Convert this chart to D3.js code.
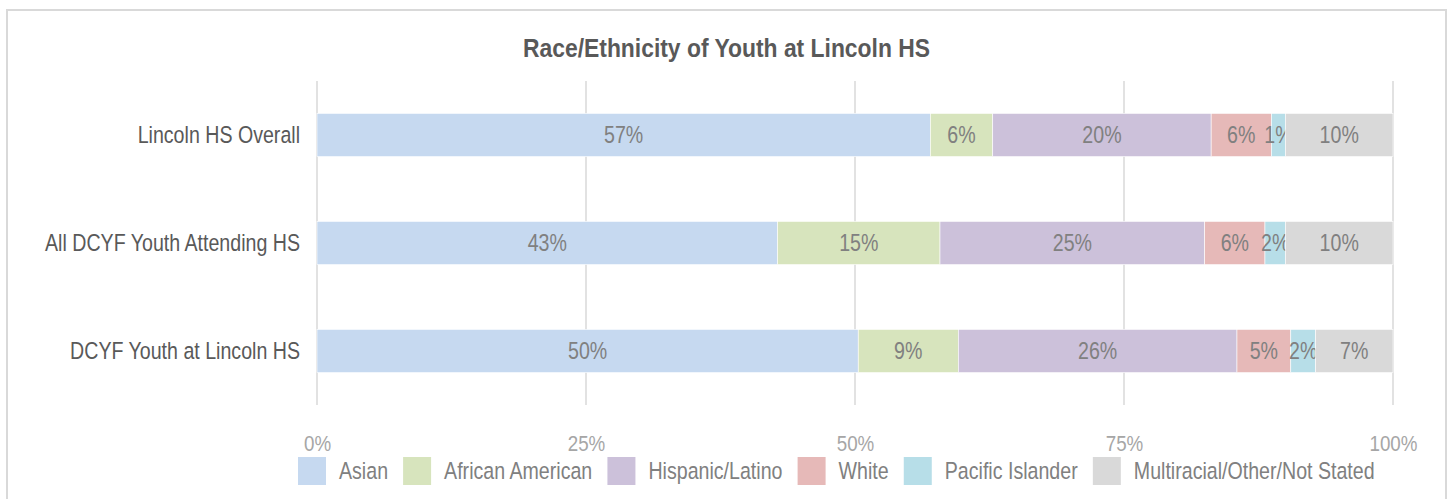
<!DOCTYPE html>
<html>
<head>
<meta charset="utf-8">
<script src="https://cdn.jsdelivr.net/npm/d3@7"></script>
<style>
  html, body { margin: 0; padding: 0; background: #fff; }
  svg { display: block; font-family: "Liberation Sans", Arial, sans-serif; }
</style>
</head>
<body>
<svg id="chart" width="1450" height="499"></svg>
<script>
const title = "Race/Ethnicity of Youth at Lincoln HS";
const categories = ["Lincoln HS Overall", "All DCYF Youth Attending HS", "DCYF Youth at Lincoln HS"];
const seriesNames = ["Asian", "African American", "Hispanic/Latino", "White", "Pacific Islander", "Multiracial/Other/Not Stated"];
const seriesColors = ["#c6d9f0", "#d7e4bd", "#ccc1da", "#e6b9b8", "#b7dee8", "#d9d9d9"];
const asian = [57.0, 42.8, 50.3];
const africanAmerican = [5.8, 15.1, 9.3];
const hispanicLatino = [20.3, 24.6, 25.9];
const white = [5.6, 5.6, 5.0];
const pacificIslander = [1.3, 1.9, 2.3];
const multiracial = [10.0, 10.0, 7.2];
const seriesValues = [asian, africanAmerican, hispanicLatino, white, pacificIslander, multiracial];
const valueLabels = [
  ["57%", "43%", "50%"],
  ["6%", "15%", "9%"],
  ["20%", "25%", "26%"],
  ["6%", "6%", "5%"],
  ["1%", "2%", "2%"],
  ["10%", "10%", "7%"]
];
const tickValues = [0, 25, 50, 75, 100];
const tickLabels = ["0%", "25%", "50%", "75%", "100%"];

const NARROW = 0.835;
// emulate a narrow face: move each text's anchor into a transform and squeeze horizontally
function condense(sel, k) {
  sel.each(function() {
    const t = d3.select(this);
    const tx = +t.attr("x") || 0, ty = +t.attr("y") || 0;
    t.attr("x", 0).attr("y", 0)
     .attr("transform", `translate(${tx},${ty}) scale(${k},1)`);
  });
}

const svg = d3.select("#chart");

// chart frame
svg.append("rect")
  .attr("x", 7).attr("y", 10).attr("width", 1439).attr("height", 500)
  .attr("fill", "none").attr("stroke", "#d9d9d9").attr("stroke-width", 2);

svg.append("text")
  .attr("x", 726.5).attr("y", 57)
  .attr("text-anchor", "middle")
  .attr("font-size", 25).attr("font-weight", "bold")
  .attr("fill", "#595959")
  .text(title)
  .call(condense, 0.915);

const x = d3.scaleLinear().domain([0, 100]).range([317, 1393]);
const y = d3.scaleBand().domain(categories).range([81, 405]).paddingInner(0.6).paddingOuter(0.3);

// gridlines
svg.append("g").selectAll("line").data(tickValues).join("line")
  .attr("x1", d => x(d)).attr("x2", d => x(d))
  .attr("y1", 81).attr("y2", 405)
  .attr("stroke", "#d9d9d9").attr("stroke-width", 1.5);

// x axis tick labels
const xAxis = d3.axisBottom(x).tickValues(tickValues).tickSize(0).tickPadding(0)
  .tickFormat((d, i) => tickLabels[i]);
const gx = svg.append("g").attr("transform", "translate(0,430)").call(xAxis);
gx.select(".domain").remove();
gx.selectAll("text").attr("font-size", 22.5).attr("fill", "#a6a6a6")
  .attr("font-family", null).attr("dy", null).attr("y", 21)
  .call(condense, NARROW);

// y axis category labels
const yAxis = d3.axisLeft(y).tickSize(0).tickPadding(17);
const gy = svg.append("g").attr("transform", "translate(317,0)").call(yAxis);
gy.select(".domain").remove();
gy.selectAll("text").attr("font-size", 23.5).attr("fill", "#595959").attr("font-family", null)
  .attr("dy", "0.36em")
  .call(condense, NARROW);

// stacked data
const rows = categories.map((c, i) => {
  const r = { category: c };
  seriesNames.forEach((s, j) => { r[s] = seriesValues[j][i]; });
  return r;
});
const stacked = d3.stack().keys(seriesNames)(rows);

const layers = svg.append("g").selectAll("g").data(stacked).join("g")
  .attr("fill", (d, i) => seriesColors[i]);

layers.selectAll("rect").data(d => d).join("rect")
  .attr("x", d => x(d[0]))
  .attr("width", d => x(d[1]) - x(d[0]))
  .attr("y", d => y(d.data.category))
  .attr("height", y.bandwidth())
  .attr("stroke", "#ffffff").attr("stroke-width", 0.6);

layers.each(function(layer, li) {
  d3.select(this).selectAll("text").data(layer).join("text")
    .attr("x", d => (x(d[0]) + x(d[1])) / 2)
    .attr("y", d => y(d.data.category) + y.bandwidth() / 2)
    .attr("dy", "0.36em")
    .attr("text-anchor", "middle")
    .attr("font-size", 23.5)
    .attr("fill", "#808080")
    .text((d, ri) => valueLabels[li][ri])
    .call(condense, NARROW);
});

// legend
const legend = svg.append("g").attr("transform", "translate(298,457)");
let lx = 0;
seriesNames.forEach((name, i) => {
  const g = legend.append("g").attr("transform", `translate(${lx},0)`);
  g.append("rect").attr("width", 28).attr("height", 28).attr("fill", seriesColors[i]);
  const t = g.append("text").attr("x", 41).attr("y", 22)
    .attr("font-size", 23.5).attr("fill", "#808080").text(name);
  const w = t.node().getComputedTextLength() * NARROW;
  t.call(condense, NARROW);
  lx += 41 + w + 15;
});
</script>
</body>
</html>
